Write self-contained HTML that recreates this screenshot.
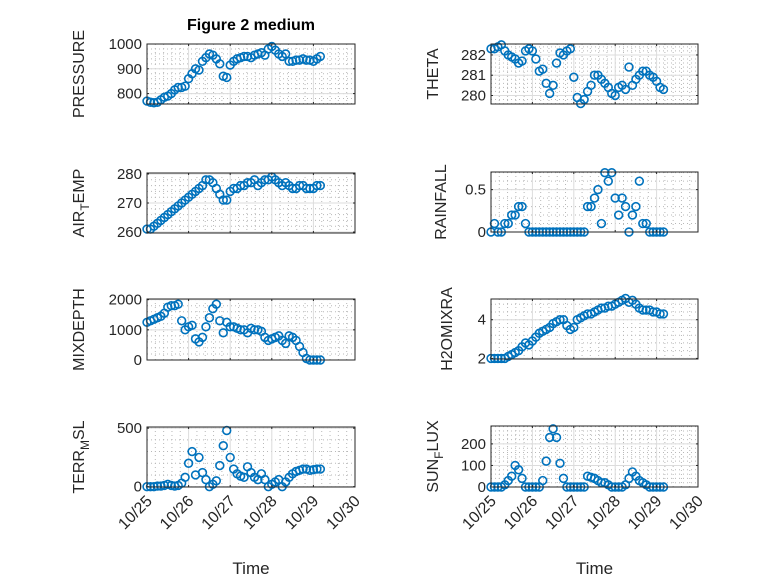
<!DOCTYPE html>
<html><head><meta charset="utf-8">
<style>
html,body{margin:0;padding:0;background:#fff;}
svg{display:block;font-family:"Liberation Sans","DejaVu Sans",sans-serif;}
</style></head>
<body>
<svg id="fig" width="778" height="583" viewBox="0 0 778 583" xmlns="http://www.w3.org/2000/svg">
<rect width="778" height="583" fill="#fff"/>
<text x="251" y="30" text-anchor="middle" font-size="16" font-weight="bold" fill="#000">Figure 2 medium</text>
</svg>
<script>
// time in days since 10/25 (2-hour steps)
const nPts = 51;
const times = Array.from({length: nPts}, (_, i) => i / 12);
const xTickLabels = ["10/25","10/26","10/27","10/28","10/29","10/30"];

const pressure = [770,765,763,765,775,785,790,800,815,825,825,830,860,880,900,895,930,945,960,955,940,920,870,865,915,930,940,945,950,950,945,955,960,965,955,980,990,975,960,950,960,930,930,935,935,940,935,935,930,940,950];
const airTemp = [261,261,262,263,264,265,266,267,268,269,270,271,272,273,274,275,276,278,278,277,275,273,271,271,274,275,275,276,276,277,277,278,276,277,278,278,279,278,277,276,277,276,275,275,276,276,275,275,275,276,276];
const theta = [282.3,282.3,282.4,282.5,282.2,282.0,281.9,281.8,281.6,281.7,282.2,282.3,282.2,281.8,281.2,281.3,280.6,280.1,280.5,281.6,282.1,282.0,282.2,282.3,280.9,279.9,279.6,279.8,280.2,280.5,281.0,281.0,280.8,280.6,280.4,280.1,280.0,280.4,280.5,280.3,281.4,280.5,280.8,281.0,281.2,281.2,281.0,280.9,280.7,280.4,280.3];
const rainfall = [0,0.1,0,0,0.1,0.1,0.2,0.2,0.3,0.3,0.1,0,0,0,0,0,0,0,0,0,0,0,0,0,0,0,0,0,0.3,0.3,0.4,0.5,0.1,0.7,0.6,0.7,0.4,0.2,0.4,0.3,0,0.2,0.3,0.6,0.1,0.1,0,0,0,0,0];
const mixDepth = [1250,1300,1350,1400,1450,1550,1750,1800,1800,1850,1300,1000,1100,1150,700,600,750,1100,1400,1700,1850,1300,900,1250,1100,1100,1050,1000,1000,900,1050,1000,1000,950,750,650,700,750,800,650,550,800,750,650,450,250,50,0,0,0,0];
const h2oMix = [2.0,2.0,2.0,2.0,2.0,2.1,2.2,2.3,2.4,2.6,2.8,2.7,2.9,3.1,3.3,3.4,3.5,3.6,3.8,3.9,4.0,4.0,3.7,3.5,3.6,4.0,4.1,4.2,4.3,4.3,4.4,4.5,4.6,4.6,4.7,4.7,4.8,4.9,5.0,5.1,4.9,5.0,4.8,4.6,4.5,4.5,4.5,4.4,4.4,4.3,4.3];
const terrMsl = [0,0,0,5,5,10,20,10,5,10,30,80,200,300,100,250,120,60,0,20,50,180,350,480,250,150,110,90,80,170,120,80,60,110,60,0,20,40,60,0,40,80,110,130,140,150,150,140,145,150,150];
const sunFlux = [0,0,0,0,10,30,50,100,80,40,0,0,0,0,0,30,120,230,270,230,110,40,0,0,0,0,0,0,50,45,40,30,20,20,10,0,0,0,0,10,40,70,50,30,20,10,0,0,0,0,0];

const pressureTicks = [800,900,1000];
const airTicks = [260,270,280];
const thetaTicks = [280,281,282];
const rainTicks = [0,0.5];
const mixTicks = [0,1000,2000];
const h2oTicks = [2,4];
const terrTicks = [0,500];
const sunTicks = [0,100,200];

const svg = document.getElementById('fig');
const NS = 'http://www.w3.org/2000/svg';
function mk(tag, attrs, parent) {
  const e = document.createElementNS(NS, tag);
  for (const k in attrs) e.setAttribute(k, attrs[k]);
  (parent || svg).appendChild(e);
  return e;
}

const panels = [
  {key:'pressure', data:pressure, ticks:pressureTicks, lim:[758,1000], box:[147,44,355,104], label:['PRESSURE'], lx:84, minorDiv:5},
  {key:'theta', data:theta, ticks:thetaTicks, lim:[279.58,282.54], box:[491,44,698,104], label:['THETA'], lx:438, minorDiv:5},
  {key:'air-temp', data:airTemp, ticks:airTicks, lim:[259.66,280.34], box:[147,173,355,233], label:['AIR','T','EMP'], lx:84, minorDiv:5},
  {key:'rainfall', data:rainfall, ticks:rainTicks, lim:[0,0.708], box:[491,172,698,232], label:['RAINFALL'], lx:446, minorDiv:5},
  {key:'mixdepth', data:mixDepth, ticks:mixTicks, lim:[0,2022], box:[147,299,355,360], label:['MIXDEPTH'], lx:84, minorDiv:5},
  {key:'h2omixra', data:h2oMix, ticks:h2oTicks, lim:[1.97,5.07], box:[491,299,698,359], label:['H2OMIXRA'], lx:452, minorDiv:5},
  {key:'terr-msl', data:terrMsl, ticks:terrTicks, lim:[-3,510], box:[147,427,355,487], label:['TERR','M','SL'], lx:84, minorDiv:5},
  {key:'sun-flux', data:sunFlux, ticks:sunTicks, lim:[0,283], box:[491,426,698,487], label:['SUN','F','LUX'], lx:438, minorDiv:5}
];

panels.forEach((p, idx) => {
  const [x0,y0,x1,y1] = p.box;
  const g = mk('g', {});
  
  
  const xs = d => x0 + (d / 5) * (x1 - x0);
  const ys = v => y1 - (v - p.lim[0]) / (p.lim[1] - p.lim[0]) * (y1 - y0);
  mk('rect', {x:x0, y:y0, width:x1-x0, height:y1-y0, fill:'#fff'}, g);
  for (let d = 0; d < 5; d++) {
    for (let m = 1; m < 5; m++) {
      const x = xs(d + m/5);
      mk('line', {x1:x, x2:x, y1:y0, y2:y1, stroke:'#b8b8b8', 'stroke-width':1, 'stroke-dasharray':'1 3'}, g);
    }
  }
  const step = p.ticks[1] - p.ticks[0];
  const mstep = step / p.minorDiv;
  for (let v = p.ticks[0] - step; v <= p.lim[1] + 1e-9; v += mstep) {
    if (v < p.lim[0] || v > p.lim[1]) continue;
    const y = ys(v);
    mk('line', {x1:x0, x2:x1, y1:y, y2:y, stroke:'#b8b8b8', 'stroke-width':1, 'stroke-dasharray':'1 3'}, g);
  }
  for (let d = 1; d < 5; d++) {
    const x = xs(d);
    mk('line', {x1:x, x2:x, y1:y0, y2:y1, stroke:'#dcdcdc', 'stroke-width':1}, g);
  }
  p.ticks.forEach(v => {
    const y = ys(v);
    mk('line', {x1:x0, x2:x1, y1:y, y2:y, stroke:'#dcdcdc', 'stroke-width':1}, g);
  });
  const dg = mk('g', {fill:'none', stroke:'#0072BD', 'stroke-width':1.6}, g);
  
  
  p.data.forEach((v, i) => {
    const c = mk('circle', {cx:xs(times[i]).toFixed(2), cy:ys(v).toFixed(2), r:3.9}, dg);
    
    
  });
  mk('rect', {x:x0, y:y0, width:x1-x0, height:y1-y0, fill:'none', stroke:'#262626', 'stroke-width':1}, g);
  for (let d = 0; d <= 5; d++) {
    const x = xs(d);
    mk('line', {x1:x, x2:x, y1:y1, y2:y1-2, stroke:'#262626'}, g);
    mk('line', {x1:x, x2:x, y1:y0, y2:y0+2, stroke:'#262626'}, g);
  }
  p.ticks.forEach(v => {
    const y = ys(v);
    mk('line', {x1:x0, x2:x0+2, y1:y, y2:y, stroke:'#262626'}, g);
    mk('line', {x1:x1, x2:x1-2, y1:y, y2:y, stroke:'#262626'}, g);
    const t = mk('text', {x:x0-5, y:y+5, 'text-anchor':'end', 'font-size':15, fill:'#262626'}, g);
    t.textContent = String(v);
    
    
  });
  const cy = (y0 + y1) / 2;
  const lab = mk('text', {x:0, y:0, transform:`translate(${p.lx},${cy}) rotate(-90)`, 'text-anchor':'middle', 'font-size':16, fill:'#262626'}, g);
  
  
  if (p.label.length === 1) {
    lab.textContent = p.label[0];
  } else {
    const a = mk('tspan', {}, lab); a.textContent = p.label[0];
    const b = mk('tspan', {dy:5, 'font-size':12}, lab); b.textContent = p.label[1];
    const c = mk('tspan', {dy:-5}, lab); c.textContent = p.label[2];
  }
  if (idx >= 6) {
    xTickLabels.forEach((s, d) => {
      const x = xs(d);
      const t = mk('text', {x:0, y:0, transform:`translate(${x+6},${y1+15}) rotate(-45)`, 'text-anchor':'end', 'font-size':16, fill:'#262626'}, g);
      t.textContent = s;
      
      
    });
    const xt = mk('text', {x:(x0+x1)/2, y:574, 'text-anchor':'middle', 'font-size':17, fill:'#262626'}, g);
    xt.textContent = 'Time';
    
    
  }
});
</script>
</body></html>
